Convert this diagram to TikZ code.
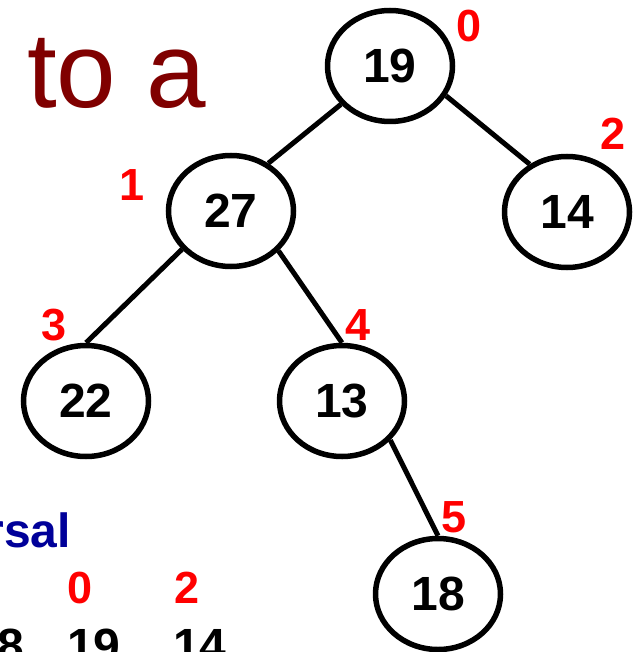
\documentclass[tikz,border=0pt]{standalone}
\usepackage{fontspec}
\setmainfont{Liberation Sans}
\usetikzlibrary{shapes.geometric}
\definecolor{idxred}{RGB}{255,0,0}
\definecolor{headred}{RGB}{128,0,0}
\definecolor{headblue}{RGB}{0,0,153}
\tikzset{
  treenode/.style={ellipse, draw=black, line width=5.5pt, minimum width=125pt,
    minimum height=111pt, inner sep=0pt,
    font=\fontsize{48}{54}\selectfont\bfseries},
  edge/.style={line width=5pt},
  idx/.style={text=idxred, inner sep=0pt, font=\fontsize{45}{50}\selectfont\bfseries},
  seq/.style={inner sep=0pt, anchor=base, font=\fontsize{48}{54}\selectfont\bfseries},
}
\begin{document}
\begin{tikzpicture}[x=1pt,y=-1pt]
  \useasboundingbox (0,0) rectangle (641,652);
  \clip (0,0) rectangle (641,652);

  % heading fragments
  \node[anchor=base west, inner sep=0pt, text=headred,
        font=\fontsize{107}{112}\selectfont] (head) at (27,108) {to a};
  \node[anchor=base east, inner sep=0pt, text=headblue,
        font=\fontsize{48}{54}\selectfont\bfseries] (trav) at (71,547) {rsal};

  % tree nodes
  \node[treenode] (n19) at (390,66)  {19};
  \node[treenode] (n27) at (231,211) {27};
  \node[treenode] (n14) at (567,212) {14};
  \node[treenode] (n22) at (86,401)  {22};
  \node[treenode] (n13) at (342,401) {13};
  \node[treenode] (n18) at (438,594) {18};

  % edges
  \draw[edge] (n19.218) -- (n27.52);
  \draw[edge] (n19.-28) -- (n14.128);
  \draw[edge] (n27.218) -- (n22.90);
  \draw[edge] (n27.-40) -- (n13.90);
  \draw[edge] (n13.-39) -- (n18.90);

  % array indices
  \node[idx] (i0) at (469,26)  {0};
  \node[idx] (i1) at (132,185) {1};
  \node[idx] (i2) at (613,134) {2};
  \node[idx] (i3) at (54,325)  {3};
  \node[idx] (i4) at (358,325) {4};
  \node[idx] (i5) at (454,517) {5};

  % traversal row
  \node[idx] (r0) at (80,588)  {0};
  \node[idx] (r2) at (187,588) {2};
  \node[seq] (s18) at (11,662)  {8};
  \node[seq] (s19) at (94,662) {19};
  \node[seq] (s14) at (200,662) {14};
\end{tikzpicture}
\end{document}
